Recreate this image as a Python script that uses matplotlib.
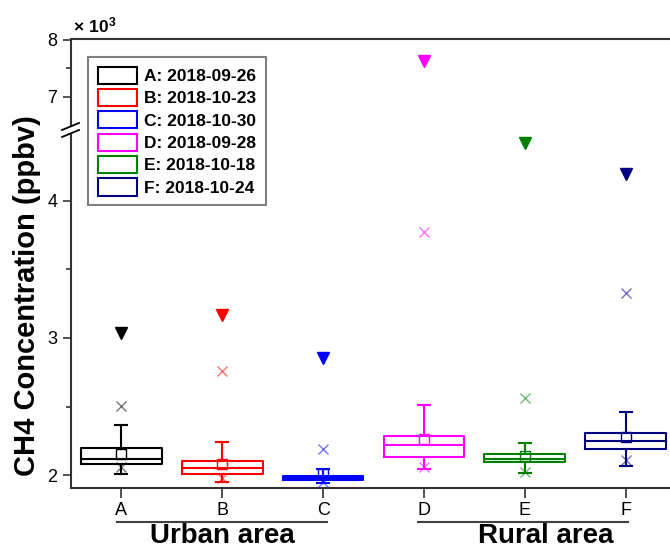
import matplotlib
matplotlib.use("Agg")
import matplotlib.pyplot as plt
from matplotlib.patches import Patch
import matplotlib.transforms as mtransforms

plt.rcParams['font.family'] = ['Liberation Sans', 'DejaVu Sans']
plt.rcParams['mathtext.fontset'] = 'custom'
plt.rcParams['mathtext.rm'] = 'Liberation Sans'
plt.rcParams['mathtext.bf'] = 'Liberation Sans:bold'

# box plot values (x 10^3 ppbv)
labels = ['A', 'B', 'C', 'D', 'E', 'F']
dates = ['A: 2018-09-26', 'B: 2018-10-23', 'C: 2018-10-30',
         'D: 2018-09-28', 'E: 2018-10-18', 'F: 2018-10-24']
colors = ['#000000', '#FF0000', '#0000FF', '#FF00FF', '#008000', '#000080']
q1 = [2.080, 2.007, 1.966, 2.131, 2.099, 2.192]
med = [2.119, 2.051, 1.980, 2.219, 2.119, 2.250]
q3 = [2.197, 2.102, 1.997, 2.286, 2.155, 2.306]
mean = [2.155, 2.082, 2.010, 2.262, 2.140, 2.281]
whislo = [2.012, 1.953, 1.940, 2.044, 2.015, 2.068]
whishi = [2.367, 2.243, 2.048, 2.512, 2.238, 2.464]
p1 = [2.063, 1.983, 1.953, 2.058, 2.020, 2.112]
p99 = [2.507, 2.760, 2.190, 3.773, 2.561, 3.330]
maxv = [3.035, 3.168, 2.856, 7.635, 4.418, 4.195]
positions = [1, 2, 3, 4, 5, 6]

fig = plt.figure(figsize=(6.7, 5.51), dpi=100)
ax_bot = fig.add_axes([0.106, 0.11434, 0.9030, 0.6425])
ax_top = fig.add_axes([0.106, 0.7713, 0.9030, 0.1574])

spine_c = '#333333'
for ax in (ax_bot, ax_top):
    for i in range(6):
        c = colors[i]
        st = [dict(med=med[i], q1=q1[i], q3=q3[i], whislo=whislo[i],
                   whishi=whishi[i], mean=mean[i], fliers=[])]
        ax.bxp(st, positions=[positions[i]], widths=0.8, capwidths=0.12,
               showmeans=True, showfliers=False,
               boxprops=dict(color=c, lw=1.5),
               medianprops=dict(color=c, lw=1.5),
               whiskerprops=dict(color=c, lw=1.5),
               capprops=dict(color=c, lw=1.5),
               meanprops=dict(marker='s', markersize=7, markerfacecolor='none',
                              markeredgecolor=c, markeredgewidth=1.0))
        ax.plot(positions[i], p99[i], marker='x', color=c, markersize=7.5,
                mew=1.0, alpha=0.55, ls='none')
        ax.plot(positions[i], p1[i], marker='x', color=c, markersize=7.5,
                mew=1.0, alpha=0.55, ls='none')
        ax.plot(positions[i], maxv[i], marker='v', color=c, markersize=9,
                ls='none')
    ax.set_xlim(0.5, 6.5)
    ax.spines['right'].set_visible(False)
    for s in ax.spines.values():
        s.set_color(spine_c)
        s.set_linewidth(1.5)
    ax.tick_params(axis='y', direction='out', length=6, width=1.2,
                   color=spine_c, labelsize=13, pad=4)
    ax.tick_params(axis='y', which='minor', direction='out', length=3.6,
                   width=1.2, color=spine_c)

ax_bot.set_ylim(1.907, 4.486)
ax_bot.set_yticks([2, 3, 4])
ax_bot.set_yticks([2.5, 3.5], minor=True)
ax_bot.set_yticklabels(['2', '3', '4'])
ax_bot.spines['top'].set_visible(False)
ax_bot.set_xticks(positions)
ax_bot.set_xticklabels(labels)
ax_bot.tick_params(axis='x', direction='out', length=7, width=1.2,
                   color=spine_c, labelsize=13, pad=3)

ax_top.set_ylim(6.483, 8.012)
ax_top.set_yticks([7, 8])
ax_top.set_yticks([7.5], minor=True)
ax_top.set_yticklabels(['7', '8'])
ax_top.spines['bottom'].set_visible(False)
ax_top.set_xticks([])

# axis break marks
for yb in (126.5, 133.5):
    y0 = 1 - (yb + 3.5) / 551
    y1 = 1 - (yb - 3.5) / 551
    fig.add_artist(plt.Line2D([62 / 670, 79 / 670], [y0, y1], color='black',
                              lw=1.3, transform=fig.transFigure))

# group labels under the x axis
trans = mtransforms.blended_transform_factory(ax_bot.transData, ax_bot.transAxes)
ax_bot.plot([0.96, 3.04], [-0.0952, -0.0952], color='#404040', lw=1.5,
            transform=trans, clip_on=False)
ax_bot.plot([3.94, 6.02], [-0.0952, -0.0952], color='#404040', lw=1.5,
            transform=trans, clip_on=False)
ax_bot.text(2.0, -0.1554, 'Urban area', transform=trans, ha='center',
            va='baseline', fontsize=20, fontweight='bold')
ax_bot.text(5.21, -0.1554, 'Rural area', transform=trans, ha='center',
            va='baseline', fontsize=20, fontweight='bold')

fig.text(27 / 670, 1 - 295.5 / 551, 'CH4 Concentration (ppbv)', rotation=90,
         ha='center', va='center', fontsize=21, fontweight='bold')
fig.text(73 / 670, 1 - 25 / 551, r'$\mathbf{\times\ 10^{3}}$', ha='left',
         va='center', fontsize=12.5)

handles = [Patch(facecolor='white', edgecolor=c, lw=1.5) for c in colors]
leg = fig.legend(handles, dates, loc='upper left',
                 bbox_to_anchor=(88 / 670, 1 - 57 / 551), borderaxespad=0,
                 prop=dict(size=12.5, weight='bold'), handlelength=2.3,
                 handleheight=1.15, handletextpad=0.38, labelspacing=0.28,
                 borderpad=0.55, fancybox=False, framealpha=1)
leg.get_frame().set_edgecolor('#808080')
leg.get_frame().set_linewidth(1.5)

fig.savefig('out.png', dpi=100)
